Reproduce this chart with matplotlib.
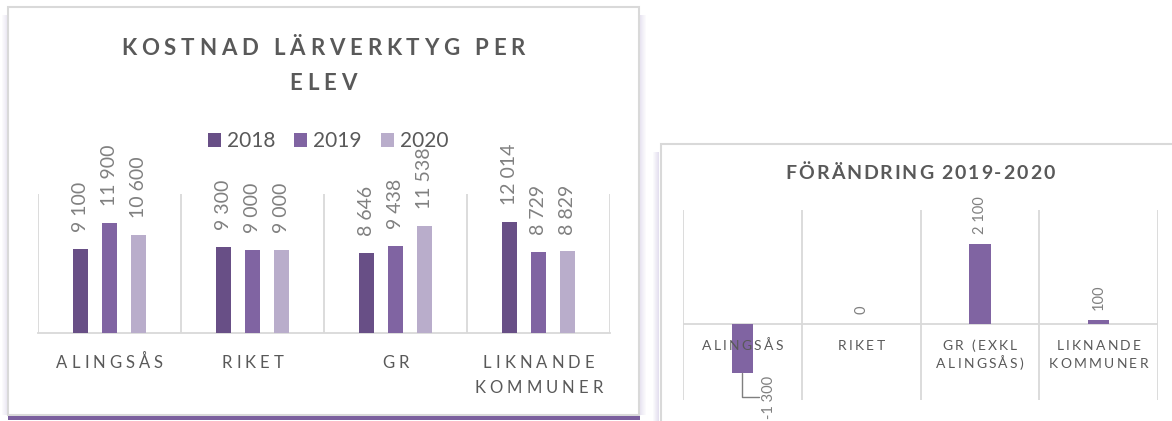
import numpy as np
import matplotlib
matplotlib.use("Agg")
import matplotlib.pyplot as plt
from matplotlib.patches import Rectangle
from matplotlib.font_manager import FontProperties, findfont, get_font

# Kostnad lärverktyg per elev
categories = ["ALINGSÅS", "RIKET", "GR", "LIKNANDE\nKOMMUNER"]
years = ["2018", "2019", "2020"]
cost_2018 = [9100, 9300, 8646, 12014]
cost_2019 = [11900, 9000, 9438, 8729]
cost_2020 = [10600, 9000, 11538, 8829]

# Förändring 2019-2020
change_categories = ["ALINGSÅS", "RIKET", "GR (EXKL\nALINGSÅS)", "LIKNANDE\nKOMMUNER"]
change_values = [-1300, 0, 2100, 100]

W, H = 1172, 421
FONT = "Lato"
TXT = "#595959"
LBL = "#808080"
GRID = "#d9d9d9"
colors = ["#684f86", "#8064a2", "#b9adcb"]


def fx(x):
    return x / W


def fy(y):
    return 1 - y / H


def fmt(v):
    s = f"{abs(v):,}".replace(",", " ")
    return "-" + s if v < 0 else s


def tracked(fig, s, x, y, size, track, weight="normal", color=TXT):
    # draw text char by char with extra letter spacing (pixels)
    prop = FontProperties(family=FONT, size=size, weight=weight)
    font = get_font(findfont(prop))
    font.set_size(size, fig.dpi)
    widths = [font.load_char(ord(c)).linearHoriAdvance / 65536 for c in s]
    total = sum(widths) + track * (len(s) - 1)
    cx = x - total / 2
    for c, w in zip(s, widths):
        if c != " ":
            fig.text(fx(cx), fy(y), c, fontproperties=prop, color=color,
                     ha="left", va="baseline", zorder=5)
        cx += w + track


def frect(x0, y0, x1, y1, **kw):
    # rectangle in figure pixel coordinates, drawn under the axes
    fig.patches.append(Rectangle((fx(x0), fy(y1)), (x1 - x0) / W, (y1 - y0) / H,
                                 transform=fig.transFigure, zorder=-5, **kw))


fig = plt.figure(figsize=(W / 100, H / 100), dpi=100)
fig.patch.set_facecolor("white")

# chart frames with soft shadows
for i in range(6):
    a = 0.22 * (i + 1) / 6
    frect(2 + i, 15, 3 + i, 415, color="#9b8cc4", alpha=a, lw=0)
    frect(645 - i, 15, 646 - i, 415, color="#9b8cc4", alpha=a, lw=0)
    frect(653 + i, 152, 654 + i, 421, color="#9b8cc4", alpha=a * 1.2, lw=0)
frect(8, 7, 639, 415, facecolor="white", edgecolor=GRID, lw=1.5)
frect(8, 416, 640, 420, facecolor="#7b5f9e", lw=0)
frect(661, 144, 1181, 430, facecolor="white", edgecolor=GRID, lw=1.5)

# ---- left chart ----
ax = fig.add_axes([fx(38), fy(333), (610 - 38) / W, (333 - 194) / H])
ax.set_zorder(2)
x = np.arange(len(categories))
step, width = 0.203, 0.105
for k, (vals, c, yr) in enumerate(zip([cost_2018, cost_2019, cost_2020], colors, years)):
    xs = x + (k - 1) * step
    ax.bar(xs, vals, width, color=c, label=yr, zorder=3)
    for xi, v in zip(xs, vals):
        ax.annotate(fmt(v), (xi, v), xytext=(0, 12), textcoords="offset points",
                    rotation=90, ha="center", va="bottom", fontsize=14,
                    family=FONT, color=LBL, annotation_clip=False)
ax.set_xlim(-0.5, len(categories) - 0.5)
ax.set_ylim(0, 15000)
ax.set_xticks(np.arange(-0.5, len(categories)), minor=True)
ax.set_xticks([])
ax.set_yticks([])
ax.grid(which="minor", axis="x", color=GRID, lw=1.3)
for side in ["top", "left", "right"]:
    ax.spines[side].set_visible(False)
ax.spines["bottom"].set_color(GRID)
ax.spines["bottom"].set_linewidth(1.3)
ax.tick_params(which="both", length=0)
ax.set_facecolor("none")

leg = ax.legend(loc="center", bbox_to_anchor=(fx(328), fy(141)), bbox_transform=fig.transFigure,
                ncol=3, frameon=False, borderpad=0, handlelength=0.63, handleheight=0.67,
                handletextpad=0.3, columnspacing=0.9, prop=FontProperties(family=FONT, size=15))
for t in leg.get_texts():
    t.set_color(TXT)

tracked(fig, "KOSTNAD LÄRVERKTYG PER", 323, 55, 16, 4.8, weight="bold")
tracked(fig, "ELEV", 323, 90, 16, 4.8, weight="bold")

fig.canvas.draw()
for i, name in enumerate(categories):
    cx = ax.transData.transform((i, 0))[0]
    for j, line in enumerate(name.split("\n")):
        tracked(fig, line, cx, 368 + 25 * j, 12, 4.0)

# ---- right chart ----
ax2 = fig.add_axes([fx(683), fy(400), (1158 - 683) / W, (400 - 210) / H])
ax2.set_zorder(2)
x2 = np.arange(len(change_categories))
bars = ax2.bar(x2, change_values, 0.18, color=colors[1], zorder=3)
ax2.set_xlim(-0.5, len(change_categories) - 0.5)
ax2.set_ylim(-2000, 3000)
ax2.set_xticks(np.arange(-0.5, len(change_categories)), minor=True)
ax2.set_xticks([])
ax2.set_yticks([])
ax2.grid(which="minor", axis="x", color=GRID, lw=1.3)
ax2.axhline(0, color=GRID, lw=1.3, zorder=2)
for side in ax2.spines:
    ax2.spines[side].set_visible(False)
ax2.tick_params(which="both", length=0)
ax2.set_facecolor("none")

for xi, v in zip(x2, change_values):
    if v >= 0:
        ax2.annotate(fmt(v), (xi, v), xytext=(0, 7), textcoords="offset points",
                     rotation=90, ha="center", va="bottom", fontsize=10.5,
                     family=FONT, color=LBL, annotation_clip=False)
    else:
        ax2.annotate(fmt(v), (xi, v), xytext=(19, -17), textcoords="offset points",
                     rotation=90, ha="center", va="center", fontsize=10.5,
                     family=FONT, color=LBL, annotation_clip=False,
                     arrowprops=dict(arrowstyle="-", color="#7f7f7f", lw=1,
                                     connectionstyle="angle,angleA=0,angleB=90,rad=0",
                                     shrinkA=0, shrinkB=0))

tracked(fig, "FÖRÄNDRING 2019-2020", 920, 179, 14, 1.9, weight="bold")
fig.canvas.draw()
for i, name in enumerate(change_categories):
    cx = ax2.transData.transform((i, 0))[0]
    for j, line in enumerate(name.split("\n")):
        tracked(fig, line, cx, 350 + 18 * j, 10, 2.2)

fig.savefig("out.png", dpi=100)
